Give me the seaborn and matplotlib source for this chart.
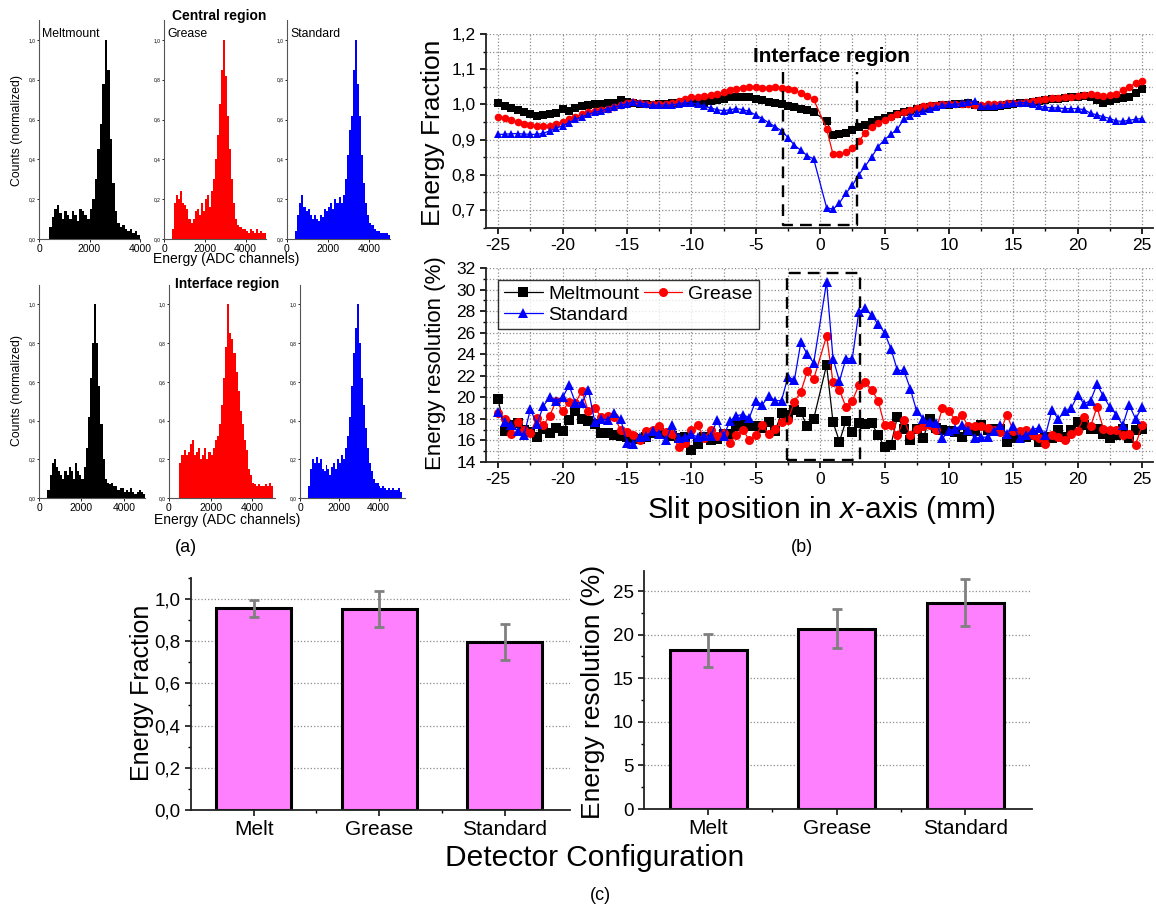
import numpy as np
import pandas as pd
import matplotlib
matplotlib.use("Agg")
import matplotlib.pyplot as plt
import seaborn as sns
from matplotlib.ticker import FuncFormatter, MultipleLocator, FixedLocator

sns.set_style("ticks")
plt.rcParams['font.family'] = ['Liberation Sans', 'DejaVu Sans']
plt.rcParams['mathtext.fontset'] = 'custom'
plt.rcParams['mathtext.rm'] = 'Liberation Sans'
plt.rcParams['mathtext.it'] = 'Liberation Sans:italic'
plt.rcParams['axes.unicode_minus'] = False
for key in ('text.color', 'axes.labelcolor', 'xtick.color', 'ytick.color'):
    plt.rcParams[key] = 'black'

# ---------------- (a) normalized spectra, 100-channel bins starting at channel 400
BIN = 100
START = 400
central_melt = [0.06, 0.11, 0.15, 0.17, 0.13, 0.10, 0.14, 0.12, 0.10, 0.14,
                0.12, 0.09, 0.15, 0.14, 0.12, 0.10, 0.15, 0.20, 0.30, 0.45,
                0.58, 0.78, 1.00, 0.85, 0.50, 0.28, 0.14, 0.08, 0.06, 0.07,
                0.05, 0.04, 0.05, 0.03, 0.04, 0.02]
central_grease = [0.05, 0.18, 0.22, 0.20, 0.24, 0.18, 0.17, 0.15, 0.10, 0.08,
                  0.10, 0.14, 0.15, 0.12, 0.18, 0.14, 0.20, 0.22, 0.16, 0.24,
                  0.30, 0.40, 0.52, 0.68, 0.85, 1.00, 0.82, 0.62, 0.45, 0.30,
                  0.18, 0.10, 0.07, 0.06, 0.05, 0.05, 0.04, 0.03, 0.05, 0.04,
                  0.03, 0.05, 0.03, 0.04, 0.03, 0.03]
central_std = [0.04, 0.12, 0.18, 0.22, 0.16, 0.14, 0.15, 0.12, 0.10, 0.12,
               0.10, 0.09, 0.12, 0.11, 0.15, 0.14, 0.16, 0.18, 0.15, 0.20,
               0.18, 0.21, 0.18, 0.22, 0.30, 0.42, 0.55, 0.62, 0.85, 1.00,
               0.78, 0.62, 0.42, 0.28, 0.18, 0.12, 0.08, 0.07, 0.05, 0.04,
               0.04, 0.03, 0.03, 0.03, 0.03, 0.02]
iface_melt = [0.04, 0.12, 0.18, 0.20, 0.16, 0.14, 0.12, 0.10, 0.14, 0.12,
              0.16, 0.14, 0.10, 0.18, 0.14, 0.12, 0.10, 0.16, 0.26, 0.42,
              0.62, 0.80, 1.00, 0.80, 0.58, 0.38, 0.20, 0.10, 0.08, 0.07,
              0.08, 0.06, 0.06, 0.04, 0.05, 0.05, 0.03, 0.04, 0.03, 0.05,
              0.03, 0.02, 0.03, 0.04, 0.03, 0.02]
iface_grease = [0.00, 0.18, 0.22, 0.25, 0.22, 0.24, 0.28, 0.30, 0.22, 0.24,
                0.26, 0.20, 0.22, 0.26, 0.20, 0.24, 0.22, 0.26, 0.30, 0.32,
                0.38, 0.48, 0.62, 0.78, 1.00, 0.85, 0.82, 0.75, 0.65, 0.55,
                0.45, 0.38, 0.30, 0.25, 0.15, 0.12, 0.08, 0.07, 0.06, 0.07,
                0.06, 0.06, 0.07, 0.06, 0.08, 0.06]
iface_std = [0.06, 0.15, 0.20, 0.18, 0.21, 0.18, 0.20, 0.15, 0.14, 0.17,
             0.15, 0.12, 0.16, 0.18, 0.15, 0.20, 0.18, 0.22, 0.20, 0.26,
             0.32, 0.42, 0.58, 0.75, 0.88, 1.00, 0.80, 0.62, 0.48, 0.36,
             0.26, 0.18, 0.14, 0.10, 0.08, 0.08, 0.06, 0.05, 0.06, 0.05,
             0.04, 0.05, 0.04, 0.05, 0.04, 0.04, 0.05, 0.03]

# ---------------- (b) slit scan, 0.5 mm steps
slit_x = np.concatenate([np.arange(-25, 0, 0.5), np.arange(0.5, 25.01, 0.5)])

frac_melt = [1.003, 0.995, 0.990, 0.985, 0.978, 0.972, 0.968, 0.970, 0.972, 0.975,
             0.988, 0.980, 0.990, 0.995, 0.998, 1.000, 1.002, 1.003, 1.005, 1.012,
             1.008, 1.005, 1.002, 1.000, 0.998, 1.000, 1.000, 1.003, 1.005, 1.008,
             1.010, 1.008, 1.005, 1.010, 1.012, 1.015, 1.020, 1.022, 1.022, 1.020,
             1.016, 1.012, 1.008, 1.004, 1.000, 0.995, 0.992, 0.988, 0.984, 0.978,
             0.953, 0.912, 0.915, 0.920, 0.928, 0.935, 0.942, 0.950, 0.955, 0.962,
             0.968, 0.972, 0.978, 0.982, 0.986, 0.990, 0.993, 0.995, 0.997, 0.998,
             1.000, 1.002, 1.003, 0.998, 0.993, 0.992, 0.994, 0.996, 0.998, 1.000,
             1.003, 1.005, 1.008, 1.010, 1.012, 1.014, 1.016, 1.018, 1.020, 1.022,
             1.024, 1.020, 1.012, 1.005, 1.010, 1.014, 1.019, 1.021, 1.033, 1.044]
frac_grease = [0.965, 0.962, 0.955, 0.950, 0.945, 0.942, 0.938, 0.938, 0.940, 0.945,
               0.950, 0.958, 0.965, 0.972, 0.978, 0.982, 0.985, 0.988, 0.992, 0.998,
               1.005, 1.008, 1.005, 1.002, 1.000, 1.000, 1.002, 1.005, 1.010, 1.015,
               1.020, 1.022, 1.025, 1.028, 1.030, 1.035, 1.042, 1.045, 1.048, 1.050,
               1.050, 1.048, 1.048, 1.050, 1.048, 1.045, 1.040, 1.033, 1.025, 1.014,
               0.931, 0.858, 0.858, 0.865, 0.875, 0.895, 0.920, 0.937, 0.947, 0.957,
               0.965, 0.972, 0.978, 0.985, 0.990, 0.995, 0.997, 0.998, 1.000, 1.000,
               1.000, 1.002, 1.000, 0.998, 0.998, 1.000, 1.002, 1.002, 1.003, 1.005,
               1.005, 1.008, 1.010, 1.012, 1.015, 1.018, 1.018, 1.020, 1.022, 1.025,
               1.028, 1.030, 1.028, 1.025, 1.026, 1.030, 1.040, 1.050, 1.060, 1.066]
frac_std = [0.915, 0.915, 0.917, 0.917, 0.916, 0.915, 0.915, 0.918, 0.925, 0.932,
            0.940, 0.948, 0.958, 0.965, 0.972, 0.978, 0.982, 0.988, 0.992, 0.998,
            1.002, 1.008, 1.005, 1.000, 0.998, 0.998, 0.998, 0.998, 1.002, 1.005,
            1.005, 1.000, 0.995, 0.990, 0.985, 0.982, 0.985, 0.988, 0.985, 0.980,
            0.970, 0.960, 0.948, 0.937, 0.925, 0.906, 0.884, 0.870, 0.854, 0.845,
            0.707, 0.702, 0.720, 0.748, 0.770, 0.800, 0.825, 0.850, 0.880, 0.900,
            0.915, 0.930, 0.958, 0.967, 0.975, 0.980, 0.988, 0.993, 0.997, 1.000,
            1.000, 1.003, 1.008, 1.010, 0.995, 0.995, 0.995, 0.998, 1.000, 1.003,
            1.005, 1.005, 1.000, 0.995, 0.992, 0.990, 0.990, 0.988, 0.988, 0.988,
            0.985, 0.975, 0.970, 0.965, 0.960, 0.953, 0.952, 0.955, 0.958, 0.960]

res_melt = [19.8, 16.9, 17.4, 17.6, 17.0, 16.8, 16.3, 17.1, 16.7, 17.2,
            16.9, 17.9, 18.7, 18.0, 17.8, 17.5, 16.7, 16.7, 16.5, 16.4,
            16.3, 16.2, 16.1, 16.3, 16.7, 16.7, 16.6, 16.4, 16.2, 16.3,
            15.1, 15.7, 16.3, 16.0, 16.1, 16.6, 16.6, 17.3, 17.4, 17.3,
            17.3, 17.2, 17.7, 16.9, 18.5, 18.4, 18.8, 18.6, 17.3, 18.0,
            23.0, 17.7, 15.9, 17.8, 16.8, 17.6, 17.5, 17.6, 16.5, 15.4,
            15.6, 18.2, 17.1, 16.0, 17.1, 16.2, 18.0, 17.2, 17.0, 16.9,
            16.8, 16.3, 16.9, 16.9, 17.4, 17.0, 17.1, 17.1, 15.9, 16.2,
            16.5, 16.3, 16.5, 15.9, 16.3, 16.2, 17.0, 16.3, 17.0, 17.7,
            17.4, 17.1, 17.1, 16.6, 16.2, 16.5, 17.1, 16.2, 17.0, 17.1]
res_grease = [18.5, 18.0, 16.6, 17.7, 17.0, 16.7, 18.1, 17.4, 18.3, 19.7,
              18.7, 19.6, 19.5, 20.6, 18.7, 19.0, 18.2, 18.3, 18.2, 17.0,
              16.8, 16.5, 16.0, 16.9, 17.0, 17.3, 16.8, 16.6, 15.4, 15.8,
              17.0, 17.4, 16.2, 17.0, 16.4, 16.7, 15.8, 16.5, 17.0, 16.0,
              16.5, 17.4, 16.6, 17.1, 17.7, 17.9, 19.6, 20.5, 22.4, 21.7,
              25.7, 21.4, 20.7, 19.1, 19.7, 21.1, 21.4, 20.7, 19.7, 17.4,
              17.4, 16.5, 17.9, 16.5, 17.1, 17.3, 17.4, 17.0, 19.0, 18.7,
              17.9, 18.4, 17.3, 17.3, 17.3, 17.2, 17.0, 16.8, 18.4, 16.9,
              16.9, 17.0, 16.5, 16.2, 15.7, 16.5, 16.3, 16.0, 16.6, 16.9,
              18.2, 17.3, 19.1, 17.1, 17.0, 17.0, 16.5, 16.6, 15.6, 17.4]
res_std = [18.6, 17.7, 17.4, 16.9, 16.5, 18.9, 17.5, 19.2, 20.0, 19.7,
           20.0, 21.1, 19.5, 19.5, 20.7, 17.7, 18.0, 17.9, 18.5, 18.0,
           15.8, 15.7, 16.3, 16.4, 16.9, 16.6, 16.0, 17.4, 16.2, 16.3,
           16.6, 16.3, 16.4, 16.4, 17.9, 16.4, 17.8, 18.3, 18.4, 18.1,
           19.7, 19.3, 20.1, 19.7, 19.7, 21.9, 21.6, 25.1, 24.0, 23.2,
           30.7, 23.6, 21.5, 23.6, 23.6, 27.9, 28.3, 27.6, 26.8, 26.0,
           24.5, 22.5, 22.5, 20.8, 18.7, 18.0, 17.7, 17.6, 16.2, 16.9,
           17.1, 17.4, 17.0, 16.2, 16.3, 16.3, 16.9, 17.4, 16.6, 17.3,
           16.2, 16.5, 17.0, 17.2, 16.5, 18.8, 18.0, 18.7, 19.0, 20.2,
           19.4, 19.7, 21.2, 20.1, 19.1, 18.4, 17.4, 19.3, 18.0, 19.1]

# ---------------- (c) averages per detector configuration
configs = ["Melt", "Grease", "Standard"]
mean_frac = [0.956, 0.951, 0.796]
err_frac = [0.040, 0.085, 0.085]
mean_res = [18.2, 20.7, 23.65]
err_res = [1.9, 2.2, 2.7]

W, H = 1156, 911
fig = plt.figure(figsize=(W / 100, H / 100), dpi=100)


def axes_px(l, t, r, b):
    return fig.add_axes([l / W, 1 - b / H, (r - l) / W, (b - t) / H])


def comma(fmt):
    return FuncFormatter(lambda v, p: fmt.format(v).replace('.', ','))


def clean(ax):
    for s in ("top", "right"):
        ax.spines[s].set_visible(False)


# ---------------- panel (a)
spectra = [
    (central_melt, "black", (39, 20, 140, 239), 4000, "Meltmount"),
    (central_grease, "#ff0000", (164, 20, 266, 239), 5000, "Grease"),
    (central_std, "#0000ff", (287, 20, 390, 239), 5000, "Standard"),
    (iface_melt, "black", (39, 285, 145, 498), 5000, None),
    (iface_grease, "#ff0000", (169, 285, 275, 498), 5100, None),
    (iface_std, "#0000ff", (300, 285, 405, 498), 5350, None),
]
for vals, col, box, xmax, name in spectra:
    ax = axes_px(*box)
    edges = [START + BIN * i for i in range(len(vals) + 1)]
    spec = pd.DataFrame({"channel": [e + BIN / 2 for e in edges[:-1]],
                         "counts": vals})
    sns.histplot(data=spec, x="channel", weights="counts", bins=edges, color=col,
                 alpha=1, linewidth=0, ax=ax)
    ax.set_xlim(0, xmax)
    ax.set_ylim(0, 1.1)
    ax.set_xlabel("")
    ax.set_ylabel("")
    clean(ax)
    for s in ("left", "bottom"):
        ax.spines[s].set_linewidth(0.8)
        ax.spines[s].set_color("#555555")
    ax.xaxis.set_major_locator(FixedLocator([0, 2000, 4000]))
    ax.yaxis.set_major_locator(MultipleLocator(0.2))
    ax.yaxis.set_major_formatter(comma("{:.1f}"))
    ax.tick_params(axis="x", labelsize=7.5, length=2, width=0.6, pad=1.5)
    ax.tick_params(axis="y", labelsize=3.5, length=1.5, width=0.6, pad=1)
    if name:
        ax.text(0.03, 0.935, name, transform=ax.transAxes, fontsize=8.8,
                ha="left", va="center")

fig.text(219 / W, 1 - 16 / H, "Central region", fontsize=10, fontweight="bold",
         ha="center", va="center")
fig.text(227 / W, 1 - 284 / H, "Interface region", fontsize=10, fontweight="bold",
         ha="center", va="center")
for yc in (130, 390):
    fig.text(17 / W, 1 - yc / H, "Counts (normalized)", rotation=90, fontsize=8.8,
             ha="center", va="center")
fig.text(226 / W, 1 - 259 / H, "Energy (ADC channels)", fontsize=10,
         ha="center", va="center")
fig.text(227 / W, 1 - 520 / H, "Energy (ADC channels)", fontsize=10,
         ha="center", va="center")
fig.text(186 / W, 1 - 548 / H, "(a)", fontsize=13, ha="center", va="center")

# ---------------- panel (b)
series = [("Meltmount", "black", "s"), ("Grease", "#ff0000", "o"),
          ("Standard", "#0000ff", "^")]
ax_f = axes_px(486, 34, 1153, 228)
ax_r = axes_px(486, 268, 1153, 462)
for (name, col, mk), yf, yr in zip(series, [frac_melt, frac_grease, frac_std],
                                   [res_melt, res_grease, res_std]):
    sns.lineplot(x=slit_x, y=yf, color=col, marker=mk, markersize=5.5,
                 markeredgecolor=col, markeredgewidth=0, linewidth=0.9,
                 ax=ax_f, legend=False)
    sns.lineplot(x=slit_x, y=yr, color=col, marker=mk, markersize=6.5,
                 markeredgecolor=col, markeredgewidth=0, linewidth=0.9,
                 ax=ax_r, label=name)

for ax in (ax_f, ax_r):
    clean(ax)
    ax.set_xlim(-25.95, 25.85)
    ax.xaxis.set_major_locator(MultipleLocator(5))
    ax.xaxis.set_minor_locator(MultipleLocator(2.5))
    ax.grid(True, which="both", linestyle=":", color="#8c8c8c", linewidth=0.9)
    ax.set_axisbelow(True)
    ax.tick_params(which="major", labelsize=12.5, length=4, width=1.2, direction="out")
    ax.tick_params(which="minor", length=2, width=1, direction="out")
    for s in ("left", "bottom"):
        ax.spines[s].set_linewidth(1.3)
        ax.spines[s].set_color("#222222")
    ax.set_xlabel("")
    ax.set_ylabel("")

ax_f.set_ylim(0.649, 1.2)
ax_f.yaxis.set_major_locator(MultipleLocator(0.1))
ax_f.yaxis.set_minor_locator(MultipleLocator(0.05))
ax_f.yaxis.set_major_formatter(comma("{:.1f}"))
ax_f.plot([-2.9, -2.9, 2.85, 2.85], [1.093, 0.657, 0.657, 1.093], color="black",
          linestyle=(0, (5, 3)), linewidth=1.7)
ax_f.text(0.85, 1.136, "Interface region", fontsize=15, fontweight="bold",
          ha="center", va="center")

ax_r.set_ylim(14, 32)
ax_r.yaxis.set_major_locator(MultipleLocator(2))
ax_r.yaxis.set_minor_locator(MultipleLocator(1))
ax_r.plot([-2.6, -2.6, 3.1, 3.1, -2.6], [14.15, 31.5, 31.5, 14.15, 14.15],
          color="black", linestyle=(0, (5, 3)), linewidth=1.7)
h, l = ax_r.get_legend_handles_labels()
order = [0, 2, 1]
leg = ax_r.legend([h[i] for i in order], [l[i] for i in order], ncol=2,
                  loc="upper left", bbox_to_anchor=(0.018, 0.94), fontsize=14,
                  frameon=True, fancybox=False, edgecolor="black",
                  handlelength=2.0, handletextpad=0.3, columnspacing=0.2,
                  labelspacing=0.15, borderpad=0.3, borderaxespad=0)
leg.get_frame().set_linewidth(1.0)

fig.text(433 / W, 1 - 133 / H, "Energy Fraction", rotation=90, fontsize=19,
         ha="center", va="center")
fig.text(436 / W, 1 - 363 / H, "Energy resolution (%)", rotation=90, fontsize=16,
         ha="center", va="center")
fig.text(821 / W, 1 - 510 / H, r"Slit position in $\it{x}$-axis (mm)", fontsize=21.5,
         ha="center", va="center")
fig.text(802 / W, 1 - 548 / H, "(b)", fontsize=13, ha="center", va="center")

# ---------------- panel (c)
bar_panels = [
    ((191, 578, 570, 810), mean_frac, err_frac, 1.1, 0.2, 0.1, "{:.1f}"),
    ((644, 571, 1032, 809), mean_res, err_res, 27.3, 5, 2.5, "{:.0f}"),
]
for box, vals, errs, ymax, major, minor, fmt in bar_panels:
    ax = axes_px(*box)
    sns.barplot(x=configs, y=vals, color="#ff80ff", edgecolor="black",
                linewidth=2.2, width=0.6, saturation=1, errorbar=None, ax=ax)
    ax.errorbar(np.arange(len(configs)), vals, yerr=errs, fmt="none",
                ecolor="#808080", elinewidth=2, capsize=3.5, capthick=2, zorder=5)
    clean(ax)
    ax.set_xlim(-0.5, 2.52)
    ax.set_ylim(0, ymax)
    ax.yaxis.set_major_locator(MultipleLocator(major))
    ax.yaxis.set_minor_locator(MultipleLocator(minor))
    ax.yaxis.set_major_formatter(comma(fmt))
    ax.xaxis.set_minor_locator(FixedLocator([0.5, 1.5]))
    ax.grid(True, axis="y", which="major", linestyle=":", color="#8c8c8c",
            linewidth=0.9)
    ax.set_axisbelow(True)
    ax.tick_params(axis="y", which="major", labelsize=13.5, length=4, width=1.1)
    ax.tick_params(axis="x", which="major", labelsize=15, length=4, width=1.1)
    ax.tick_params(which="minor", length=2, width=1)
    for s in ("left", "bottom"):
        ax.spines[s].set_linewidth(1.3)
        ax.spines[s].set_color("#222222")
    ax.set_xlabel("")
    ax.set_ylabel("")

fig.text(142 / W, 1 - 693 / H, "Energy Fraction", rotation=90, fontsize=18,
         ha="center", va="center")
fig.text(593 / W, 1 - 692 / H, "Energy resolution (%)", rotation=90, fontsize=19,
         ha="center", va="center")
fig.text(595 / W, 1 - 858 / H, "Detector Configuration", fontsize=21.5,
         ha="center", va="center")
fig.text(600 / W, 1 - 896 / H, "(c)", fontsize=13, ha="center", va="center")

fig.savefig("out.png", dpi=100)
